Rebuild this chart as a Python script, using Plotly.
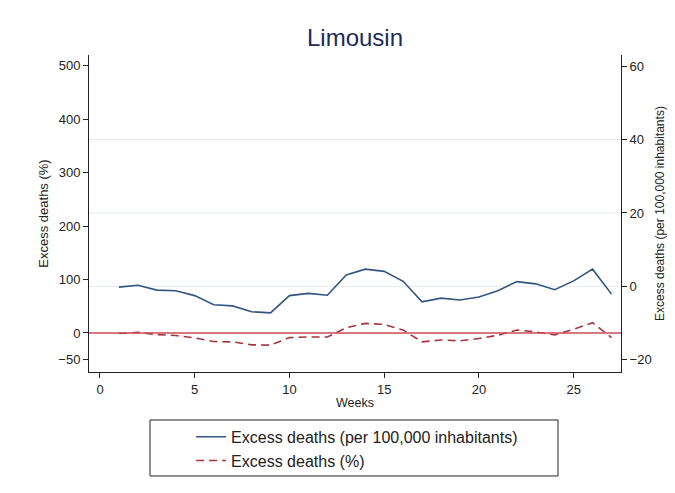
import plotly.graph_objects as go

weeks = list(range(1, 28))
excess_per_100k = [-0.2, 0.3, -1.0, -1.2, -2.5, -5.0, -5.3, -6.9, -7.2, -2.5, -1.9, -2.4,
                   3.1, 4.7, 4.1, 1.4, -4.2, -3.2, -3.7, -2.9, -1.2, 1.3, 0.7, -0.9,
                   1.5, 4.7, -2.1]
excess_pct = [-1.1, 1.3, -3.0, -4.8, -9.3, -16.0, -16.7, -22.2, -22.8, -8.7, -7.4, -7.4,
              9.8, 17.9, 16.0, 5.5, -16.7, -13.0, -14.8, -10.4, -4.3, 5.5, 1.9, -3.7,
              6.9, 19.3, -8.5]

x_ticks = [0, 5, 10, 15, 20, 25]
left_ticks = [-50, 0, 100, 200, 300, 400, 500]
right_ticks = [-20, 0, 20, 40, 60]
right_grid = [0, 20, 40]
zero_line_pct = 0

BLUE = "#34557f"
MAROON = "#a3373f"
ZERO = "#c94a57"
FONT = "Liberation Sans, Arial, sans-serif"

W, H = 659, 477

fig = go.Figure()
fig.add_trace(go.Scatter(x=weeks, y=excess_per_100k, yaxis="y2", mode="lines",
                         name="Excess deaths (per 100,000 inhabitants)",
                         line=dict(color=BLUE, width=1.6)))
fig.add_trace(go.Scatter(x=weeks, y=excess_pct, yaxis="y", mode="lines",
                         name="Excess deaths (%)",
                         line=dict(color=MAROON, width=1.6, dash="8px,5px")))

shapes = []
for g in right_grid:
    shapes.append(dict(type="line", xref="paper", x0=0, x1=1, yref="y2", y0=g, y1=g,
                       line=dict(color="#e6ecee", width=1), layer="below"))
shapes.append(dict(type="line", xref="paper", x0=0, x1=1, yref="y", y0=zero_line_pct, y1=zero_line_pct,
                   line=dict(color=ZERO, width=1.6), layer="above"))
# legend box
shapes.append(dict(type="rect", xref="paper", yref="paper",
                   x0=0.1147, x1=0.8816, y0=-0.1514, y1=-0.328,
                   line=dict(color="#222", width=1), fillcolor="rgba(0,0,0,0)"))

fig.update_layout(
    width=W, height=H,
    margin=dict(l=81, r=46, t=47, b=113, autoexpand=False),
    paper_bgcolor="white", plot_bgcolor="white",
    font=dict(family=FONT, size=13, color="#222"),
    title=dict(text="Limousin", x=347 / W, xanchor="center", y=1 - 30 / H, yanchor="middle",
               yref="container", font=dict(family=FONT, size=24, color="#1c2b5a")),
    xaxis=dict(range=[-0.58, 27.5], tickvals=x_ticks, ticks="outside", ticklen=5,
               tickcolor="#222", showline=True, linecolor="#222", linewidth=1,
               showgrid=False, zeroline=False, automargin=False,
               title=dict(text="Weeks", font=dict(size=12.5), standoff=2)),
    yaxis=dict(range=[-73, 520], tickvals=left_ticks, ticks="outside", ticklen=5,
               tickcolor="#222", showline=True, linecolor="#222", linewidth=1,
               showgrid=False, zeroline=False, automargin=False,
               title=dict(text="Excess deaths (%)", font=dict(size=13), standoff=6)),
    yaxis2=dict(range=[-23.3, 63], tickvals=right_ticks, ticks="outside", ticklen=5,
                tickcolor="#222", showline=True, linecolor="#222", linewidth=1,
                showgrid=False, zeroline=False, overlaying="y", side="right", automargin=False,
                title=dict(text="Excess deaths (per 100,000 inhabitants)", font=dict(size=12), standoff=12)),
    legend=dict(x=0.1919, xanchor="left", y=-0.151, yanchor="top", orientation="v",
                font=dict(family=FONT, size=16, color="#222"), bgcolor="rgba(0,0,0,0)",
                borderwidth=0),
    showlegend=True,
    shapes=shapes,
)

fig.write_html("out.html")
